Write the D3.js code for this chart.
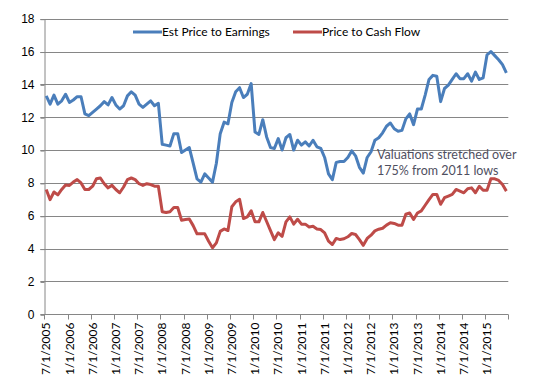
<!DOCTYPE html>
<html>
<head>
<meta charset="utf-8">
<script src="https://d3js.org/d3.v7.min.js"></script>
<style>
  html, body { margin: 0; padding: 0; background: #fff; }
  svg { display: block; font-family: Lato, "Open Sans", sans-serif; }
  .grid line { stroke: #868686; stroke-width: 1; }
  .axis path, .axis line { stroke: #868686; }
  .axis text { fill: #000; font-size: 12px; }
</style>
</head>
<body>
<div id="chart"></div>
<script>
// monthly observations, 7/2005 .. 6/2015
var startMonth = new Date(2005, 6, 1);

var peValues = [
  13.3, 12.8, 13.35, 12.8, 13.0, 13.4, 12.9, 13.05, 13.25, 13.25,
  12.2, 12.1, 12.3, 12.5, 12.7, 12.95, 12.75, 13.2, 12.75, 12.5,
  12.7, 13.3, 13.55, 13.35, 12.8, 12.6, 12.8, 13.0, 12.7, 12.85,
  10.35, 10.3, 10.25, 11.0, 11.0, 9.85, 10.0, 10.15, 9.2, 8.25,
  8.05, 8.55, 8.3, 8.05, 9.2, 11.0, 11.7, 11.6, 12.9, 13.55,
  13.8, 13.2, 13.4, 14.05, 11.1, 10.95, 11.85, 10.8, 10.15, 10.1,
  10.7, 10.0, 10.75, 10.95, 10.0, 10.6, 10.3, 10.5, 10.25, 10.6,
  10.2, 10.1, 9.55, 8.55, 8.2, 9.25, 9.3, 9.3, 9.55, 9.95,
  9.65, 8.95, 8.6, 9.55, 9.9, 10.6, 10.75, 11.05, 11.45, 11.65,
  11.3, 11.15, 11.2, 11.9, 12.2, 11.55, 12.5, 12.5, 13.35, 14.3,
  14.55, 14.5, 12.95, 13.75, 13.95, 14.3, 14.65, 14.35, 14.35, 14.65,
  14.2, 14.75, 14.3, 14.4, 15.8, 16.0, 15.75, 15.5, 15.2, 14.7
];

var pcfValues = [
  7.6, 6.98, 7.45, 7.27, 7.6, 7.87, 7.85, 8.05, 8.2, 8.0,
  7.6, 7.6, 7.8, 8.25, 8.3, 7.95, 7.7, 7.85, 7.6, 7.4,
  7.75, 8.2, 8.3, 8.2, 7.95, 7.85, 7.95, 7.9, 7.8, 7.8,
  6.25, 6.2, 6.25, 6.5, 6.5, 5.73, 5.77, 5.8, 5.4, 4.9,
  4.9, 4.9, 4.45, 4.05, 4.35, 5.05, 5.2, 5.1, 6.55, 6.85,
  7.0, 5.83, 5.93, 6.3, 5.63, 5.63, 6.2, 5.65, 5.1, 4.55,
  4.96, 4.75, 5.63, 5.93, 5.49, 5.79, 5.49, 5.49, 5.32, 5.36,
  5.2, 5.16, 4.96, 4.45, 4.25, 4.62, 4.55, 4.6, 4.72, 4.92,
  4.86, 4.55, 4.2, 4.62, 4.82, 5.08, 5.18, 5.24, 5.43, 5.57,
  5.53, 5.43, 5.43, 6.09, 6.17, 5.77, 6.17, 6.3, 6.64, 6.98,
  7.3, 7.3, 6.7, 7.1, 7.2, 7.3, 7.6, 7.5, 7.4, 7.65,
  7.7, 7.4, 7.8, 7.55, 7.55, 8.25, 8.25, 8.15, 7.9, 7.5
];

var seriesNames = ["Est Price to Earnings", "Price to Cash Flow"];
var seriesColors = ["#4a7ebb", "#be4b48"];
var yTicks = [0, 2, 4, 6, 8, 10, 12, 14, 16, 18];
var noteLines = ["Valuations stretched over", "175% from 2011 lows"];

var width = 537, height = 383;
var margin = {top: 18.7, right: 28.7, bottom: 68.7, left: 44.3};

var months = peValues.map(function (d, i) {
    return d3.timeMonth.offset(startMonth, i);
});
var fmt = function (d) {
    return (d.getMonth() + 1) + "/" + d.getDate() + "/" + d.getFullYear();
};

var svg = d3.select("#chart").append("svg")
    .attr("width", width)
    .attr("height", height);

var x = d3.scaleBand()
    .domain(months.map(function (d, i) { return i; }))
    .range([margin.left, width - margin.right])
    .padding(0);

var y = d3.scaleLinear()
    .domain([0, 18])
    .range([height - margin.bottom, margin.top]);

// horizontal grid
svg.append("g")
    .attr("class", "grid")
    .selectAll("line")
    .data(yTicks.filter(function (d) { return d > 0; }))
    .enter().append("line")
    .attr("x1", margin.left - 4)
    .attr("x2", width - margin.right)
    .attr("y1", function (d) { return Math.round(y(d)) + 0.5; })
    .attr("y2", function (d) { return Math.round(y(d)) + 0.5; });

// y axis
var yAxis = svg.append("g")
    .attr("class", "axis")
    .attr("transform", "translate(" + (Math.round(margin.left) + 0.5) + ",0)")
    .call(d3.axisLeft(y).tickValues(yTicks).tickSize(4).tickSizeOuter(0).tickPadding(6));
yAxis.selectAll(".tick line").attr("transform", "translate(0,0.5)");

// x axis: ticks at category boundaries, every 6 months
var tickIdx = d3.range(0, months.length + 1, 6);
var xg = svg.append("g").attr("class", "axis");
var x0 = Math.round(y(0)) + 0.5;
xg.append("line")
    .attr("x1", margin.left - 4).attr("x2", width - margin.right)
    .attr("y1", x0).attr("y2", x0);
xg.selectAll("line.tk")
    .data(tickIdx)
    .enter().append("line")
    .attr("class", "tk")
    .attr("x1", function (i) { return Math.round(margin.left + i * x.bandwidth()) + 0.5; })
    .attr("x2", function (i) { return Math.round(margin.left + i * x.bandwidth()) + 0.5; })
    .attr("y1", x0).attr("y2", x0 + 5);
xg.selectAll("text")
    .data(tickIdx.filter(function (i) { return i < months.length; }))
    .enter().append("text")
    .attr("transform", function (i) {
        return "translate(" + (x(i) + x.bandwidth() / 2) + "," + (x0 + 8) + ") rotate(-90)";
    })
    .attr("text-anchor", "end")
    .attr("dy", "0.35em")
    .style("font-size", "12px")
    .text(function (i) { return fmt(months[i]); });

// lines
var line = d3.line()
    .x(function (d, i) { return x(i) + x.bandwidth() / 2; })
    .y(function (d) { return y(d); });

[peValues, pcfValues].forEach(function (vals, k) {
    svg.append("path")
        .datum(vals)
        .attr("fill", "none")
        .attr("stroke", seriesColors[k])
        .attr("stroke-width", 3)
        .attr("stroke-linejoin", "round")
        .attr("d", line);
});

// legend
var legendX = [133, 293];
seriesNames.forEach(function (name, k) {
    var g = svg.append("g").attr("transform", "translate(" + legendX[k] + ",32)");
    g.append("line")
        .attr("x1", 0).attr("x2", 29)
        .attr("stroke", seriesColors[k])
        .attr("stroke-width", 3);
    g.append("text")
        .attr("x", 29)
        .attr("dy", "0.35em")
        .style("font-size", "12px")
        .text(name);
});

// annotation
svg.append("text")
    .attr("x", 377)
    .attr("y", 159)
    .style("font-size", "12.5px")
    .attr("fill", "#4f4f5f")
    .selectAll("tspan")
    .data(noteLines)
    .enter().append("tspan")
    .attr("x", 377)
    .attr("dy", function (d, i) { return i ? 16 : 0; })
    .text(function (d) { return d; });
</script>
</body>
</html>
